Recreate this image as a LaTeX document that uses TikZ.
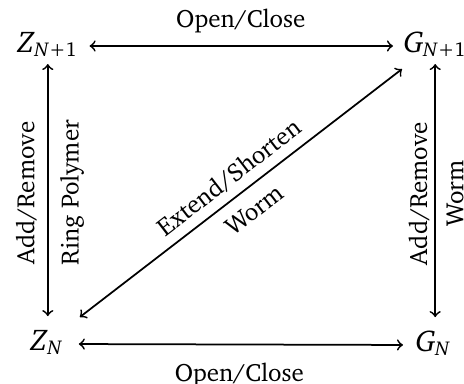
\documentclass[tikz,border=0pt]{standalone}
\usepackage[T1]{fontenc}
\usepackage{charter}
\usetikzlibrary{calc}
\begin{document}
\begin{tikzpicture}[x=0.4pt,y=-0.4pt,>=to,
  corner/.style={inner sep=0pt,font=\large},
  conn/.style={<->,line width=0.7pt},
  lbl/.style={font=\normalsize}]
\useasboundingbox (0,0) rectangle (464,383);
\node[corner,anchor=base west] (Z1) at (17,52) {\textit{Z}\textsubscript{\textit{N}+1}};
\node[corner,anchor=base west] (G1) at (403,52) {\textit{G}\textsubscript{\textit{N}+1}};
\node[corner,anchor=base west] (Z0) at (30,350) {\textit{Z}\textsubscript{\textit{N}}};
\node[corner,anchor=base west] (G0) at (415,351) {\textit{G}\textsubscript{\textit{N}}};
% horizontal
\draw[conn,shorten <=4.4pt,shorten >=4pt] (Z1.mid east) -- node[lbl,above=1.5pt] {Open/Close} (G1.mid west);
\draw[conn,shorten <=6pt,shorten >=4.8pt] (Z0.mid east) -- node[lbl,below=3.8pt] {Open/Close} (G0.mid west);
% left vertical
\draw[conn,shorten <=5.2pt,shorten >=2.8pt] (Z1.south |- Z0.north) -- node[lbl,midway,sloped,above=0.8pt] {Add/Remove} node[lbl,midway,sloped,below=1.2pt] {Ring Polymer} (Z1.south);
% right vertical
\draw[conn,shorten <=5.2pt,shorten >=2.8pt] (G1.south |- G0.north) -- node[lbl,midway,sloped,above=-1.3pt] {Add/Remove} node[lbl,midway,sloped,below=0.8pt] {Worm} (G1.south);
% diagonal
\draw[conn] ($(Z0.north east)+(16,-12)$) -- node[lbl,midway,sloped,above=0pt] {Extend/Shorten} node[lbl,midway,sloped,below=1.4pt] {Worm} ($(G1.south west)+(-1,12)$);
\end{tikzpicture}
\end{document}
